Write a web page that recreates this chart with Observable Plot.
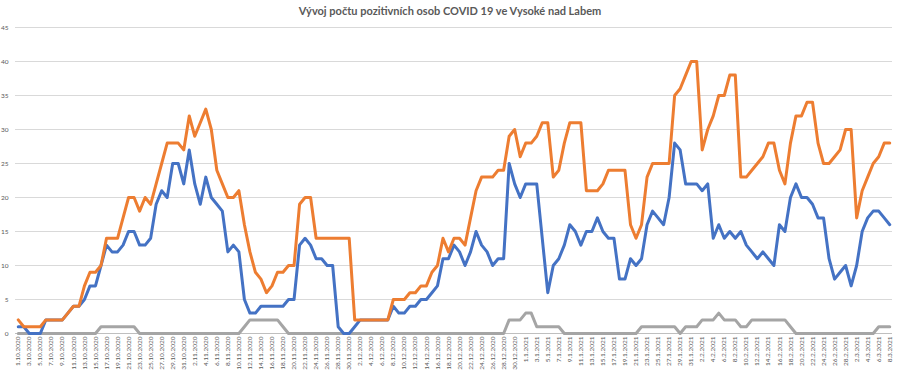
<!DOCTYPE html>
<html>
<head>
<meta charset="utf-8">
<script src="https://cdn.jsdelivr.net/npm/d3@7"></script>
<script src="https://cdn.jsdelivr.net/npm/@observablehq/plot@0.6"></script>
<style>
  html, body { margin: 0; padding: 0; background: #fff; }
  #title { height: 20px; line-height: 22px; text-align: center; font-family: Lato, "Open Sans", sans-serif; font-weight: bold; font-size: 11px; color: #595959; }
  #chart svg { display: block; }
</style>
</head>
<body>
<div id="title">Vývoj počtu pozitivních osob COVID 19 ve Vysoké nad Labem</div>
<div id="chart"></div>
<script>
// daily values from 1.10.2020 to 8.3.2021
const startDate = "2020-10-01";
const orangeSeries = [
  2,1,1,1,1,2,2,2,2,3,
  4,4,7,9,9,10,14,14,14,17,
  20,20,18,20,19,22,25,28,28,28,
  27,32,29,31,33,30,24,22,20,20,
  21,16,12,9,8,6,7,9,9,10,
  10,19,20,20,14,14,14,14,14,14,
  14,2,2,2,2,2,2,2,5,5,
  5,6,6,7,7,9,10,14,12,14,
  14,13,17,21,23,23,23,24,24,29,
  30,26,28,28,29,31,31,23,24,28,
  31,31,31,21,21,21,22,24,24,24,
  24,16,14,16,23,25,25,25,25,35,
  36,38,40,40,27,30,32,35,35,38,
  38,23,23,24,25,26,28,28,24,22,
  28,32,32,34,34,28,25,25,26,27,
  30,30,17,21,23,25,26,28,28
];
const blueSeries = [
  1,1,0,0,0,2,2,2,2,3,
  4,4,5,7,7,10,13,12,12,13,
  15,15,13,13,14,19,21,20,25,25,
  22,27,22,19,23,20,19,18,12,13,
  12,5,3,3,4,4,4,4,4,5,
  5,13,14,13,11,11,10,10,1,0,
  0,1,2,2,2,2,2,2,4,3,
  3,4,4,5,5,6,7,11,11,13,
  12,10,12,15,13,12,10,11,11,25,
  22,20,22,22,22,14,6,10,11,13,
  16,15,13,15,15,17,15,14,14,8,
  8,11,10,11,16,18,17,16,20,28,
  27,22,22,22,21,22,14,16,14,15,
  14,15,13,12,11,12,11,10,16,15,
  20,22,20,20,19,17,17,11,8,9,
  10,7,10,15,17,18,18,17,16
];
const graySeries = [
  0,0,0,0,0,0,0,0,0,0,
  0,0,0,0,0,1,1,1,1,1,
  1,1,0,0,0,0,0,0,0,0,
  0,0,0,0,0,0,0,0,0,0,
  0,1,2,2,2,2,2,2,1,0,
  0,0,0,0,0,0,0,0,0,0,
  0,0,0,0,0,0,0,0,0,0,
  0,0,0,0,0,0,0,0,0,0,
  0,0,0,0,0,0,0,0,0,2,
  2,2,3,3,1,1,1,1,1,0,
  0,0,0,0,0,0,0,0,0,0,
  0,0,0,1,1,1,1,1,1,1,
  0,1,1,1,2,2,2,3,2,2,
  2,1,1,2,2,2,2,2,2,2,
  1,0,0,0,0,0,0,0,0,0,
  0,0,0,0,0,0,1,1,1
];
const yTicks = [0,5,10,15,20,25,30,35,40,45];
const colors = { gray: "#A5A5A5", blue: "#4472C4", orange: "#ED7D31" };

const t0 = new Date(startDate + "T00:00:00Z");
const dates = orangeSeries.map((_, i) => d3.utcDay.offset(t0, i));
const mk = (arr, key) => arr.map((v, i) => ({ date: dates[i], value: v, key }));
const gray = mk(graySeries, "gray");
const blue = mk(blueSeries, "blue");
const orange = mk(orangeSeries, "orange");

const fmt = d => `${d.getUTCDate()}.${d.getUTCMonth() + 1}.${d.getUTCFullYear()}`;
const xTicks = dates.filter((d, i) => i % 2 === 0);

const chart = Plot.plot({
  width: 900,
  height: 357,
  marginTop: 7,
  marginBottom: 44,
  marginLeft: 15,
  marginRight: 8,
  style: { fontFamily: "Lato, 'Open Sans', sans-serif", color: "#595959", background: "#fff" },
  x: {
    type: "utc",
    domain: [d3.utcHour.offset(dates[0], -12), d3.utcHour.offset(dates[dates.length - 1], 12)],
    ticks: xTicks,
    tickFormat: fmt,
    tickRotate: -90,
    tickSize: 0,
    tickPadding: 3,
    label: null
  },
  y: {
    domain: [0, 45],
    ticks: yTicks,
    tickSize: 0,
    tickPadding: 7,
    label: null
  },
  marks: [
    Plot.gridY(yTicks, { stroke: "#D9D9D9", strokeOpacity: 1, strokeWidth: 1 }),
    Plot.ruleY([0], { stroke: "#BFBFBF", strokeWidth: 1 }),
    Plot.axisX({ ticks: xTicks, tickFormat: fmt, tickRotate: -90, tickSize: 0, tickPadding: 3, fontSize: 6.5, fill: "#595959", label: null }),
    Plot.axisY({ ticks: yTicks, tickSize: 0, tickPadding: 7, fontSize: 6.5, fill: "#595959", label: null }),
    Plot.line(gray, { x: "date", y: "value", stroke: colors.gray, strokeWidth: 3, strokeLinejoin: "round" }),
    Plot.line(blue, { x: "date", y: "value", stroke: colors.blue, strokeWidth: 3, strokeLinejoin: "round" }),
    Plot.line(orange, { x: "date", y: "value", stroke: colors.orange, strokeWidth: 3, strokeLinejoin: "round" })
  ]
});
document.getElementById("chart").appendChild(chart);
</script>
</body>
</html>
